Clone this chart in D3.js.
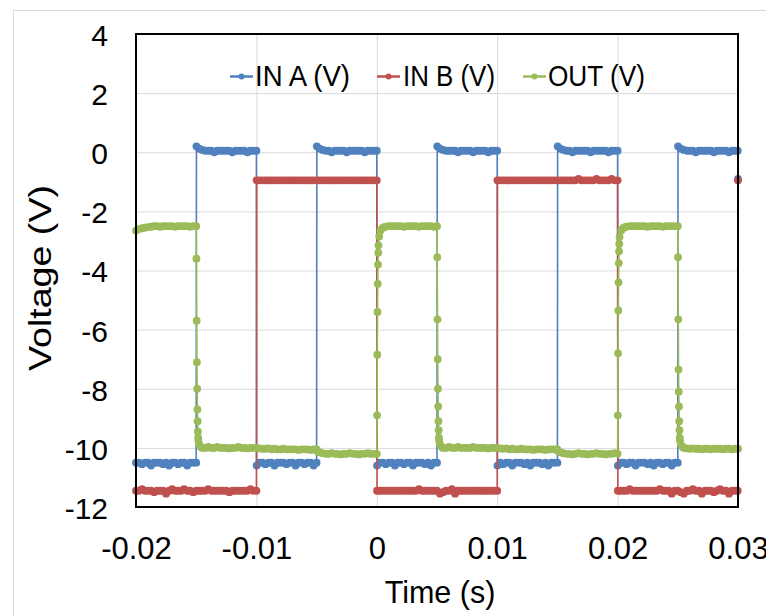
<!DOCTYPE html>
<html>
<head>
<meta charset="utf-8">
<script src="https://cdn.jsdelivr.net/npm/d3@7"></script>
<style>
  body { margin: 0; background: #fff; }
  text { font-family: "Liberation Sans", Arial, sans-serif; fill: #000; }
</style>
</head>
<body>
<script>
// tick values and labels (time kept in ms, labelled in s)
var xTicks = [-20, -10, 0, 10, 20, 30];
var xTickLabels = ["-0.02", "-0.01", "0", "0.01", "0.02", "0.03"];
var yTicks = [-12, -10, -8, -6, -4, -2, 0, 2, 4];

var seriesNames = ["IN A (V)", "IN B (V)", "OUT (V)"];
var seriesColors = ["#4F81BD", "#C0504D", "#9BBB59"];

// [time (ms), voltage (V)]
var inA = [
  [-20,-10.5],[-19.75,-10.5],[-19.5,-10.55],[-19.25,-10.5],[-19,-10.5],[-18.75,-10.6],[-18.5,-10.5],[-18.25,-10.5],[-18,-10.5],[-17.75,-10.55],[-17.5,-10.5],[-17.25,-10.6],[-17,-10.5],[-16.75,-10.5],[-16.5,-10.55],[-16.25,-10.5],[-16,-10.5],[-15.75,-10.6],[-15.5,-10.5],[-15.25,-10.5],[-15,-10.5],
  [-14.98,0.2],[-14.75,0.12],[-14.5,0.08],[-14.25,0.05],[-14,0.05],[-13.75,0.05],[-13.5,0],[-13.25,0.05],[-13,0.05],[-12.75,0.05],[-12.5,0.05],[-12.25,0.05],[-12,0],[-11.75,0.05],[-11.5,0.05],[-11.25,0.05],[-11,0.05],[-10.75,0],[-10.5,0.05],[-10.25,0.05],[-10,0.05],
  [-9.98,-10.6],[-9.75,-10.5],[-9.5,-10.5],[-9.25,-10.55],[-9,-10.5],[-8.75,-10.5],[-8.5,-10.6],[-8.25,-10.5],[-8,-10.5],[-7.75,-10.5],[-7.5,-10.55],[-7.25,-10.5],[-7,-10.5],[-6.75,-10.6],[-6.5,-10.5],[-6.25,-10.5],[-6,-10.55],[-5.75,-10.5],[-5.5,-10.5],[-5.25,-10.6],[-5,-10.5],
  [-4.98,0.2],[-4.75,0.12],[-4.5,0.08],[-4.25,0.05],[-4,0.05],[-3.75,0],[-3.5,0.05],[-3.25,0.05],[-3,0.05],[-2.75,0.05],[-2.5,0],[-2.25,0.05],[-2,0.05],[-1.75,0.05],[-1.5,0.05],[-1.25,0.05],[-1,0],[-0.75,0.05],[-0.5,0.05],[-0.25,0.05],[0,0.05],
  [0.02,-10.6],[0.25,-10.5],[0.5,-10.5],[0.75,-10.55],[1,-10.5],[1.25,-10.5],[1.5,-10.6],[1.75,-10.5],[2,-10.5],[2.25,-10.55],[2.5,-10.5],[2.75,-10.5],[3,-10.6],[3.25,-10.5],[3.5,-10.5],[3.75,-10.5],[4,-10.55],[4.25,-10.5],[4.5,-10.6],[4.75,-10.5],[5,-10.5],
  [5.02,0.2],[5.25,0.12],[5.5,0.08],[5.75,0.05],[6,0.05],[6.25,0.05],[6.5,0.05],[6.75,0],[7,0.05],[7.25,0.05],[7.5,0.05],[7.75,0.05],[8,0],[8.25,0.05],[8.5,0.05],[8.75,0.05],[9,0.05],[9.25,0],[9.5,0.05],[9.75,0.05],[10,0.05],
  [10.02,-10.6],[10.25,-10.5],[10.5,-10.55],[10.75,-10.5],[11,-10.5],[11.25,-10.6],[11.5,-10.5],[11.75,-10.5],[12,-10.5],[12.25,-10.55],[12.5,-10.5],[12.75,-10.6],[13,-10.5],[13.25,-10.5],[13.5,-10.5],[13.75,-10.55],[14,-10.5],[14.25,-10.6],[14.5,-10.5],[14.75,-10.5],[15,-10.5],
  [15.02,0.2],[15.25,0.12],[15.5,0.08],[15.75,0.05],[16,0.05],[16.25,0],[16.5,0.05],[16.75,0.05],[17,0.05],[17.25,0.05],[17.5,0.05],[17.75,0],[18,0.05],[18.25,0.05],[18.5,0.05],[18.75,0.05],[19,0.05],[19.25,0],[19.5,0.05],[19.75,0.05],[20,0.05],
  [20.02,-10.6],[20.25,-10.5],[20.5,-10.5],[20.75,-10.55],[21,-10.5],[21.25,-10.5],[21.5,-10.6],[21.75,-10.5],[22,-10.5],[22.25,-10.5],[22.5,-10.55],[22.75,-10.5],[23,-10.6],[23.25,-10.5],[23.5,-10.5],[23.75,-10.55],[24,-10.5],[24.25,-10.5],[24.5,-10.6],[24.75,-10.5],[25,-10.5],
  [25.02,0.2],[25.25,0.12],[25.5,0.08],[25.75,0.05],[26,0.05],[26.25,0.05],[26.5,0],[26.75,0.05],[27,0.05],[27.25,0.05],[27.5,0.05],[27.75,0.05],[28,0],[28.25,0.05],[28.5,0.05],[28.75,0.05],[29,0.05],[29.25,0],[29.5,0.05],[29.75,0.05],[29.98,0.05],
  [30,-0.9]
];

var inB = [
  [-20,-11.45],[-19.75,-11.45],[-19.5,-11.4],[-19.25,-11.45],[-19,-11.45],[-18.75,-11.45],[-18.5,-11.5],[-18.25,-11.45],[-18,-11.45],[-17.75,-11.45],[-17.5,-11.55],[-17.25,-11.45],[-17,-11.4],[-16.75,-11.45],[-16.5,-11.45],[-16.25,-11.45],[-16,-11.4],[-15.75,-11.45],[-15.5,-11.45],[-15.25,-11.5],[-15,-11.45],
  [-14.75,-11.45],[-14.5,-11.45],[-14.25,-11.45],[-14,-11.4],[-13.75,-11.45],[-13.5,-11.45],[-13.25,-11.45],[-13,-11.45],[-12.75,-11.45],[-12.5,-11.45],[-12.25,-11.5],[-12,-11.45],[-11.75,-11.45],[-11.5,-11.45],[-11.25,-11.45],[-11,-11.45],[-10.75,-11.45],[-10.5,-11.4],[-10.25,-11.45],[-10,-11.45],
  [-9.98,-0.95],[-9.75,-0.95],[-9.5,-0.95],[-9.25,-0.95],[-9,-0.95],[-8.75,-0.95],[-8.5,-0.95],[-8.25,-0.95],[-8,-0.95],[-7.75,-0.95],[-7.5,-0.95],[-7.25,-0.95],[-7,-0.95],[-6.75,-0.95],[-6.5,-0.95],[-6.25,-0.95],[-6,-0.95],[-5.75,-0.95],[-5.5,-0.95],[-5.25,-0.95],[-5,-0.95],
  [-4.75,-0.95],[-4.5,-0.95],[-4.25,-0.95],[-4,-0.95],[-3.75,-0.95],[-3.5,-0.95],[-3.25,-0.95],[-3,-0.95],[-2.75,-0.95],[-2.5,-0.95],[-2.25,-0.95],[-2,-0.95],[-1.75,-0.95],[-1.5,-0.95],[-1.25,-0.95],[-1,-0.95],[-0.75,-0.95],[-0.5,-0.95],[-0.25,-0.95],[0,-0.95],
  [0.02,-11.45],[0.25,-11.45],[0.5,-11.45],[0.75,-11.45],[1,-11.45],[1.25,-11.45],[1.5,-11.45],[1.75,-11.45],[2,-11.45],[2.25,-11.45],[2.5,-11.45],[2.75,-11.45],[3,-11.45],[3.25,-11.45],[3.5,-11.4],[3.75,-11.45],[4,-11.45],[4.25,-11.45],[4.5,-11.45],[4.75,-11.45],[5,-11.45],
  [5.25,-11.55],[5.5,-11.5],[5.75,-11.45],[6,-11.45],[6.25,-11.4],[6.5,-11.55],[6.75,-11.45],[7,-11.45],[7.25,-11.45],[7.5,-11.45],[7.75,-11.45],[8,-11.45],[8.25,-11.45],[8.5,-11.45],[8.75,-11.45],[9,-11.45],[9.25,-11.45],[9.5,-11.45],[9.75,-11.45],[10,-11.45],
  [10.02,-0.95],[10.25,-0.95],[10.5,-0.95],[10.75,-0.95],[11,-0.95],[11.25,-0.95],[11.5,-0.95],[11.75,-0.95],[12,-0.95],[12.25,-0.95],[12.5,-0.95],[12.75,-0.95],[13,-0.95],[13.25,-0.95],[13.5,-0.95],[13.75,-0.95],[14,-0.95],[14.25,-0.95],[14.5,-0.95],[14.75,-0.95],[15,-0.95],
  [15.25,-0.95],[15.5,-0.95],[15.75,-0.95],[16,-0.95],[16.25,-0.95],[16.5,-0.95],[16.75,-0.9],[17,-0.95],[17.25,-0.95],[17.5,-0.95],[17.75,-0.95],[18,-0.95],[18.25,-0.9],[18.5,-0.95],[18.75,-0.95],[19,-0.95],[19.25,-0.95],[19.5,-0.9],[19.75,-0.95],[20,-0.95],
  [20.02,-11.45],[20.25,-11.45],[20.5,-11.45],[20.75,-11.45],[21,-11.4],[21.25,-11.45],[21.5,-11.45],[21.75,-11.45],[22,-11.45],[22.25,-11.45],[22.5,-11.45],[22.75,-11.45],[23,-11.45],[23.25,-11.45],[23.5,-11.4],[23.75,-11.45],[24,-11.45],[24.25,-11.45],[24.5,-11.55],[24.75,-11.45],[25,-11.45],
  [25.25,-11.5],[25.5,-11.55],[25.75,-11.45],[26,-11.45],[26.25,-11.4],[26.5,-11.45],[26.75,-11.45],[27,-11.55],[27.25,-11.45],[27.5,-11.45],[27.75,-11.45],[28,-11.5],[28.25,-11.45],[28.5,-11.4],[28.75,-11.45],[29,-11.45],[29.25,-11.55],[29.5,-11.45],[29.75,-11.45],[29.98,-11.45],
  [30,-0.95]
];

var out = [
  [-20,-2.65],[-19.75,-2.6],[-19.5,-2.57],[-19.25,-2.55],[-19,-2.53],[-18.75,-2.52],[-18.5,-2.5],[-18.25,-2.5],[-18,-2.52],[-17.75,-2.5],[-17.5,-2.5],[-17.25,-2.5],[-17,-2.5],[-16.75,-2.52],[-16.5,-2.5],[-16.25,-2.5],[-16,-2.5],[-15.75,-2.5],[-15.5,-2.52],[-15.25,-2.5],[-15,-2.5],
  [-14.98,-3.6],[-14.96,-5.7],[-14.94,-7.1],[-14.92,-8.0],[-14.9,-8.7],[-14.88,-9.1],[-14.86,-9.45],[-14.84,-9.65],[-14.82,-9.75],[-14.75,-9.88],[-14.6,-9.97],
  [-14.5,-10],[-14.25,-10],[-14,-9.97],[-13.75,-10],[-13.5,-10],[-13.25,-9.97],[-13,-10],[-12.75,-10],[-12.5,-10],[-12.25,-10.02],[-12,-10],[-11.75,-10],[-11.5,-9.97],[-11.25,-10],[-11,-10],[-10.75,-10.02],[-10.5,-10],[-10.25,-10],[-10,-10],
  [-9.75,-10.02],[-9.5,-10.03],[-9.25,-10.03],[-9,-10.02],[-8.75,-10.05],[-8.5,-10.03],[-8.25,-10.05],[-8,-10.05],[-7.75,-10.03],[-7.5,-10.05],[-7.25,-10.05],[-7,-10.05],[-6.75,-10.05],[-6.5,-10.07],[-6.25,-10.05],[-6,-10.05],[-5.75,-10.05],[-5.5,-10.07],[-5.25,-10.05],[-5,-10.05],
  [-4.98,-10.1],[-4.75,-10.15],[-4.5,-10.18],[-4.25,-10.2],[-4,-10.2],[-3.75,-10.18],[-3.5,-10.2],[-3.25,-10.2],[-3,-10.22],[-2.75,-10.2],[-2.5,-10.2],[-2.25,-10.18],[-2,-10.2],[-1.75,-10.2],[-1.5,-10.22],[-1.25,-10.2],[-1,-10.2],[-0.75,-10.18],[-0.5,-10.2],[-0.25,-10.2],[0,-10.2],
  [0.02,-8.9],[0.04,-6.85],[0.06,-5.4],[0.08,-4.45],[0.1,-3.8],[0.12,-3.4],[0.14,-3.15],[0.2,-2.85],[0.3,-2.65],[0.45,-2.57],[0.6,-2.53],
  [0.75,-2.52],[1,-2.5],[1.25,-2.5],[1.5,-2.5],[1.75,-2.5],[2,-2.5],[2.25,-2.52],[2.5,-2.5],[2.75,-2.5],[3,-2.5],[3.25,-2.5],[3.5,-2.52],[3.75,-2.5],[4,-2.5],[4.25,-2.5],[4.5,-2.5],[4.75,-2.52],[5,-2.5],
  [5.02,-3.55],[5.04,-5.65],[5.06,-7.0],[5.08,-8.0],[5.1,-8.6],[5.12,-9.1],[5.14,-9.4],[5.16,-9.65],[5.18,-9.75],[5.25,-9.88],[5.4,-9.97],
  [5.5,-10],[5.75,-10],[6,-9.97],[6.25,-10],[6.5,-10],[6.75,-9.97],[7,-10],[7.25,-10],[7.5,-10],[7.75,-10],[8,-9.97],[8.25,-10],[8.5,-10],[8.75,-10],[9,-10],[9.25,-10.02],[9.5,-10],[9.75,-10],[10,-10],
  [10.25,-10.02],[10.5,-10.03],[10.75,-10.02],[11,-10.05],[11.25,-10.03],[11.5,-10.05],[11.75,-10.05],[12,-10.03],[12.25,-10.05],[12.5,-10.05],[12.75,-10.05],[13,-10.07],[13.25,-10.05],[13.5,-10.05],[13.75,-10.05],[14,-10.07],[14.25,-10.05],[14.5,-10.05],[14.75,-10.05],[15,-10.05],
  [15.02,-10.1],[15.25,-10.15],[15.5,-10.18],[15.75,-10.2],[16,-10.2],[16.25,-10.22],[16.5,-10.2],[16.75,-10.18],[17,-10.2],[17.25,-10.2],[17.5,-10.22],[17.75,-10.2],[18,-10.2],[18.25,-10.18],[18.5,-10.2],[18.75,-10.2],[19,-10.22],[19.25,-10.2],[19.5,-10.2],[19.75,-10.18],[20,-10.2],
  [20.02,-8.9],[20.04,-6.8],[20.06,-5.35],[20.08,-4.4],[20.1,-3.75],[20.12,-3.35],[20.14,-3.1],[20.16,-2.87],[20.3,-2.65],[20.45,-2.57],[20.6,-2.53],
  [20.75,-2.52],[21,-2.5],[21.25,-2.5],[21.5,-2.5],[21.75,-2.5],[22,-2.5],[22.25,-2.5],[22.5,-2.52],[22.75,-2.5],[23,-2.5],[23.25,-2.5],[23.5,-2.5],[23.75,-2.52],[24,-2.5],[24.25,-2.5],[24.5,-2.5],[24.75,-2.5],[25,-2.5],
  [25.02,-3.55],[25.04,-5.65],[25.06,-7.35],[25.08,-8.1],[25.1,-8.6],[25.12,-9.1],[25.14,-9.4],[25.16,-9.65],[25.18,-9.75],[25.25,-9.88],[25.4,-9.97],
  [25.5,-10],[25.75,-10.02],[26,-10.03],[26.25,-10.02],[26.5,-10.03],[26.75,-10.03],[27,-10.05],[27.25,-10.03],[27.5,-10.03],[27.75,-10.05],[28,-10.03],[28.25,-10.03],[28.5,-10.03],[28.75,-10.05],[29,-10.03],[29.25,-10.03],[29.5,-10.05],[29.75,-10.03],[30,-10.03]
];

var W = 766, H = 616;
var plot = { left: 136, top: 34, right: 738, bottom: 507 };

var svg = d3.select("body").append("svg")
    .attr("width", W)
    .attr("height", H);

// outer chart border (light gray, runs off the right/bottom edge)
svg.append("rect")
    .attr("x", 13.5).attr("y", 10.5)
    .attr("width", 800).attr("height", 700)
    .attr("fill", "#fff")
    .attr("stroke", "#d9d9d9");

var x = d3.scaleLinear().domain([-20, 30]).range([plot.left, plot.right]);
var y = d3.scaleLinear().domain([-12, 4]).range([plot.bottom, plot.top]);

// gridlines
svg.append("g")
    .attr("transform", "translate(0," + plot.bottom + ")")
    .call(d3.axisBottom(x).tickValues(xTicks).tickSize(-(plot.bottom - plot.top)).tickFormat(""))
    .call(function(g) { g.select(".domain").remove(); })
    .selectAll("line").attr("stroke", "#d9d9d9").attr("stroke-width", 1);

svg.append("g")
    .attr("transform", "translate(" + plot.left + ",0)")
    .call(d3.axisLeft(y).tickValues(yTicks).tickSize(-(plot.right - plot.left)).tickFormat(""))
    .call(function(g) { g.select(".domain").remove(); })
    .selectAll("line").attr("stroke", "#d9d9d9").attr("stroke-width", 1);

// tick labels (plain hyphen for minus, as in the original)
var yAxis = svg.append("g")
    .attr("transform", "translate(" + plot.left + ",0)")
    .call(d3.axisLeft(y).tickValues(yTicks).tickSize(0).tickPadding(28)
      .tickFormat(function(d) { return String(d); }));
yAxis.select(".domain").remove();
yAxis.selectAll("text")
    .attr("dy", "0.38em")
    .style("font-size", "30px")
    .style("font-family", "'Liberation Sans', Arial, sans-serif")
    .attr("fill", "#000");

var xAxis = svg.append("g")
    .attr("transform", "translate(0," + plot.bottom + ")")
    .call(d3.axisBottom(x).tickValues(xTicks).tickSize(0)
      .tickFormat(function(d, i) { return xTickLabels[i]; }));
xAxis.select(".domain").remove();
xAxis.selectAll("text")
    .attr("y", 52).attr("dy", 0)
    .style("font-size", "31px")
    .style("font-family", "'Liberation Sans', Arial, sans-serif")
    .attr("fill", "#000");

// series: line first, then its markers; A, B, then OUT on top
var line = d3.line()
    .x(function(d) { return x(d[0]); })
    .y(function(d) { return y(d[1]); });

[inA, inB, out].forEach(function(data, i) {
  var g = svg.append("g").attr("class", "series");
  g.append("path")
      .datum(data)
      .attr("d", line)
      .attr("fill", "none")
      .attr("stroke", seriesColors[i])
      .attr("stroke-width", 1.6);
  g.selectAll("circle")
      .data(data)
    .enter().append("circle")
      .attr("cx", function(d) { return x(d[0]); })
      .attr("cy", function(d) { return y(d[1]); })
      .attr("r", 3.9)
      .attr("fill", seriesColors[i]);
});

// plot frame
svg.append("rect")
    .attr("x", plot.left).attr("y", plot.top)
    .attr("width", plot.right - plot.left)
    .attr("height", plot.bottom - plot.top)
    .attr("fill", "none")
    .attr("stroke", "#000")
    .attr("stroke-width", 2);

// legend
var legendPos = [
  { line: 230, text: 255, width: 95 },
  { line: 377, text: 403, width: 92 },
  { line: 523, text: 548, width: 97 }
];
var legend = svg.append("g").attr("class", "legend");
seriesNames.forEach(function(name, i) {
  var p = legendPos[i];
  legend.append("line")
      .attr("x1", p.line).attr("x2", p.line + 23)
      .attr("y1", 76.5).attr("y2", 76.5)
      .attr("stroke", seriesColors[i]).attr("stroke-width", 2.5);
  legend.append("circle")
      .attr("cx", p.line + 11.5).attr("cy", 76.5).attr("r", 3)
      .attr("fill", seriesColors[i]);
  legend.append("text")
      .attr("x", p.text).attr("y", 86)
      .attr("textLength", p.width)
      .attr("lengthAdjust", "spacingAndGlyphs")
      .style("font-size", "29px")
      .text(name);
});

// axis titles
svg.append("text")
    .attr("x", (plot.left + plot.right) / 2 + 3)
    .attr("y", 603)
    .attr("text-anchor", "middle")
    .style("font-size", "30.5px")
    .text("Time (s)");

svg.append("text")
    .attr("transform", "translate(51,278) rotate(-90)")
    .attr("text-anchor", "middle")
    .attr("textLength", 186)
    .attr("lengthAdjust", "spacingAndGlyphs")
    .style("font-size", "31px")
    .text("Voltage (V)");
</script>
</body>
</html>
